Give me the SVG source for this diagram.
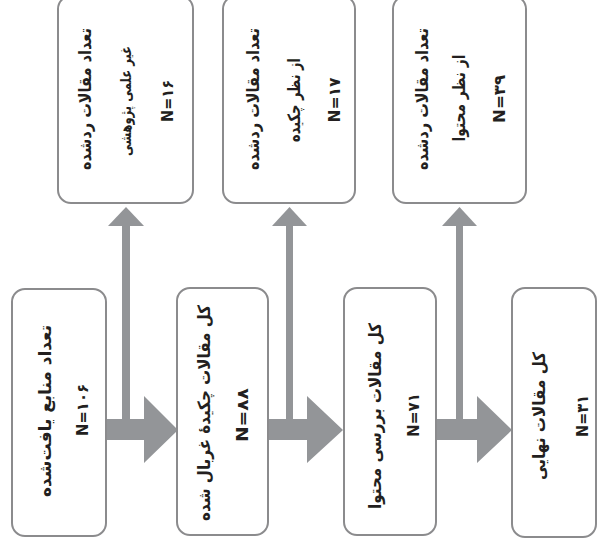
<svg xmlns="http://www.w3.org/2000/svg" width="597" height="546" viewBox="0 0 597 546">
<style>
.box{fill:#ffffff;stroke:#8b8b8d;stroke-width:2}
.arr{fill:#939598;stroke:none}
.t{font-family:"DejaVu Sans",sans-serif;font-weight:bold;font-size:17px;fill:#231f20;text-anchor:middle;dominant-baseline:central}
.s{font-size:15px}
.n{font-family:"DejaVu Sans",sans-serif;font-weight:bold;font-size:16px;fill:#231f20;text-anchor:middle;dominant-baseline:central;direction:ltr}
</style>
<rect width="597" height="546" fill="#ffffff"/>
<g id="connectors">
  <path class="arr" d="M122,226 H130 V419 H122 Z"/>
  <path class="arr" d="M108,226 L126,207 L144,226 Z"/>
  <path class="arr" d="M106,419 H144 V396 L178,430 L144,463 V440 H106 Z"/>
  <path class="arr" d="M286,226 H293 V419 H286 Z"/>
  <path class="arr" d="M272,226 L289.5,207 L307,226 Z"/>
  <path class="arr" d="M268,419 H307 V396 L343,430 L307,463 V440 H268 Z"/>
  <path class="arr" d="M456,226 H463 V419 H456 Z"/>
  <path class="arr" d="M442,226 L459.5,207 L477,226 Z"/>
  <path class="arr" d="M436,419 H477 V396 L512,430 L477,463 V440 H436 Z"/>
</g>
<g id="node-found">
  <rect class="box" x="12" y="289" width="94" height="247" rx="13"/>
  <text class="t" transform="translate(45,411) rotate(-90)" textLength="172" lengthAdjust="spacingAndGlyphs">تعداد منابع یافت‌شده</text>
  <text class="n" transform="translate(82,410) rotate(-90)" textLength="52" lengthAdjust="spacingAndGlyphs">N=۱۰۶</text>
</g>
<g id="node-screened">
  <rect class="box" x="177" y="288" width="91" height="247" rx="13"/>
  <text class="t" transform="translate(204,413) rotate(-90)" textLength="216" lengthAdjust="spacingAndGlyphs">کل مقالات چکیدهٔ غربال شده</text>
  <text class="n" transform="translate(242,415) rotate(-90)" textLength="54" lengthAdjust="spacingAndGlyphs">N=۸۸</text>
</g>
<g id="node-content">
  <rect class="box" x="344" y="288" width="92" height="247" rx="13"/>
  <text class="t" transform="translate(375,416) rotate(-90)" textLength="186" lengthAdjust="spacingAndGlyphs">کل مقالات بررسی محتوا</text>
  <text class="n" transform="translate(413,415) rotate(-90)" textLength="44" lengthAdjust="spacingAndGlyphs">N=۷۱</text>
</g>
<g id="node-final">
  <rect class="box" x="512" y="288" width="84" height="249" rx="13"/>
  <text class="t" transform="translate(539,416) rotate(-90)" textLength="128" lengthAdjust="spacingAndGlyphs">کل مقالات نهایی</text>
  <text class="n" transform="translate(582,416) rotate(-90)" textLength="42" lengthAdjust="spacingAndGlyphs">N=۳۱</text>
</g>
<g id="node-rejected-nonscientific">
  <rect class="box" x="58" y="-4" width="135" height="207" rx="13"/>
  <text class="t" transform="translate(85,99) rotate(-90)" textLength="142" lengthAdjust="spacingAndGlyphs">تعداد مقالات ردشده</text>
  <text class="t s" transform="translate(126,101) rotate(-90)" textLength="110" lengthAdjust="spacingAndGlyphs">غیر علمی پژوهشی</text>
  <text class="n" transform="translate(167,101) rotate(-90)" textLength="42" lengthAdjust="spacingAndGlyphs">N=۱۶</text>
</g>
<g id="node-rejected-abstract">
  <rect class="box" x="223" y="-4" width="132" height="207" rx="13"/>
  <text class="t" transform="translate(253,99) rotate(-90)" textLength="142" lengthAdjust="spacingAndGlyphs">تعداد مقالات ردشده</text>
  <text class="t" transform="translate(294,100) rotate(-90)" textLength="84" lengthAdjust="spacingAndGlyphs">از نظر چکیده</text>
  <text class="n" transform="translate(334,100) rotate(-90)" textLength="45" lengthAdjust="spacingAndGlyphs">N=۱۷</text>
</g>
<g id="node-rejected-content">
  <rect class="box" x="393" y="-4" width="133" height="207" rx="13"/>
  <text class="t" transform="translate(422,99) rotate(-90)" textLength="142" lengthAdjust="spacingAndGlyphs">تعداد مقالات ردشده</text>
  <text class="t" transform="translate(459,98) rotate(-90)" textLength="87" lengthAdjust="spacingAndGlyphs">از نظر محتوا</text>
  <text class="n" transform="translate(499,99) rotate(-90)" textLength="48" lengthAdjust="spacingAndGlyphs">N=۳۹</text>
</g>
</svg>
